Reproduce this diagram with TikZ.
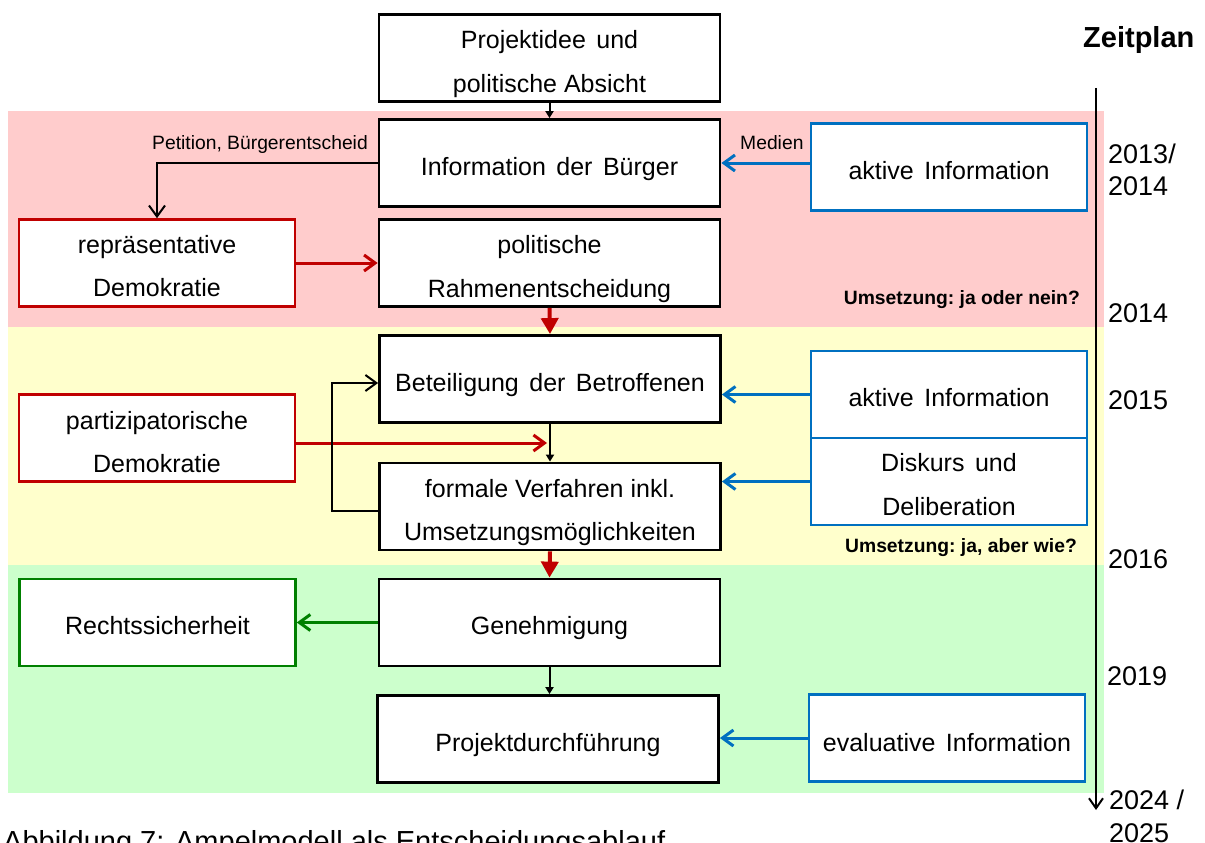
\documentclass[tikz,border=0pt]{standalone}
\usepackage{fontspec}
\setmainfont{Liberation Sans}
\usetikzlibrary{arrows.meta}
\definecolor{cred}{HTML}{C00000}
\definecolor{cblue}{HTML}{0070C0}
\definecolor{cgreen}{HTML}{008000}
\definecolor{bgred}{HTML}{FFCCCC}
\definecolor{bgyellow}{HTML}{FFFFCC}
\definecolor{bggreen}{HTML}{CCFFCC}
\newcommand\boxfont{\fontsize{25}{43.5}\selectfont}
\newcommand\tpm{\rule{0pt}{30pt}}
\newcommand\tps{\rule{0pt}{24.5pt}}
\newcommand\tpx{\rule{0pt}{26.5pt}}
\newcommand\wgap{\hspace{10.5pt}}
\begin{document}
\begin{tikzpicture}[x=1pt,y=-1pt,
  mainbox/.style={draw=black, line width=2.8pt, fill=white, minimum width=341pt, minimum height=87pt, align=center, font=\boxfont, inner sep=0pt},
  sidebox/.style={draw=#1, line width=2.6pt, fill=white, minimum width=276pt, minimum height=87pt, align=center, font=\boxfont, inner sep=0pt},
  smalllabel/.style={font=\fontsize{19.3}{22}\selectfont, inner sep=0pt},
  notelabel/.style={font=\bfseries\fontsize{19.3}{22}\selectfont, inner sep=0pt, anchor=base east},
  yearlabel/.style={font=\fontsize{27}{30}\selectfont, inner sep=0pt, anchor=base west},
  openarr/.style={-{Straight Barb[length=11pt,width=16pt]}, line width=#1},
  smallarr/.style={-{Triangle[length=7pt,width=8pt]}, line width=2pt, black},
  bigarr/.style={-{Triangle[length=16pt,width=17pt]}, line width=4pt, cred}
]
\useasboundingbox (0,0) rectangle (1205,843);
\clip (0,0) rectangle (1205,843);
% background bands
\fill[bgred] (8,111) rectangle (1104,327);
\fill[bgyellow] (8,327) rectangle (1104,565);
\fill[bggreen] (8,565) rectangle (1104,793);

% timeline
\coordinate (tl1) at (1096,88);
\coordinate (tl2) at (1096,810);
\draw[-{Straight Barb[length=10pt,width=14pt]}, line width=2pt] (tl1) -- (tl2);
\node[font=\bfseries\fontsize{29}{31}\selectfont, anchor=base west, inner sep=0pt] (zeit) at (1083,48) {Zeitplan};
\node[yearlabel] (y1) at (1108,163) {2013/};
\node[yearlabel] (y2) at (1108,195) {2014};
\node[yearlabel] (y3) at (1108,322) {2014};
\node[yearlabel] (y4) at (1108,409) {2015};
\node[yearlabel] (y5) at (1108,568) {2016};
\node[yearlabel] (y6) at (1107,685) {2019};
\node[yearlabel] (y7) at (1109,809) {2024 /};
\node[yearlabel] (y8) at (1109,842) {2025};

% main boxes
\node[mainbox] (top) at (549.5,58) {\tpm Projektidee\wgap und\\politische Absicht};
\node[mainbox] (info) at (549.5,163) {\tpm Information\wgap der\wgap Bürger};
\node[mainbox] (polit) at (549.5,263) {\tpm politische\\Rahmenentscheidung};
\node[mainbox] (beteil) at (550,379) {\tpm Beteiligung\wgap der\wgap Betroffenen};
\node[mainbox] (formal) at (550,506.5) {\tpm formale Verfahren inkl.\\Umsetzungsmöglichkeiten};
\node[mainbox] (geneh) at (549.5,622.5) {\tpm Genehmigung};
\node[mainbox] (projekt) at (548,739) {\tpm Projektdurchführung};

% side boxes
\node[sidebox=cred] (repr) at (157,263) {\tps repräsentative\\Demokratie};
\node[sidebox=cred] (partiz) at (157,438) {\tpx partizipatorische\\Demokratie};
\node[sidebox=cgreen] (recht) at (157.5,622.5) {\tps Rechtssicherheit};
\node[sidebox=cblue] (aktiv1) at (949,167) {\tps aktive\wgap Information};
\node[sidebox=cblue] (aktiv2) at (949,394.5) {\tps aktive\wgap Information};
\node[sidebox=cblue] (diskurs) at (949,481.5) {\tps Diskurs\wgap und\\Deliberation};
\node[sidebox=cblue] (eval) at (947,738) {\tpx evaluative\wgap Information};

% labels
\node[smalllabel, anchor=base east] (petition) at (368,149) {Petition, Bürgerentscheid};
\node[smalllabel, anchor=base west] (medien) at (740,149) {Medien};
\node[notelabel] (note1) at (1080,304) {Umsetzung:\ ja\ oder\ nein?};
\node[notelabel] (note2) at (1077,552) {Umsetzung:\ ja,\ aber\ wie?};

% connectors
\draw[smallarr] (top.south) -- (info.north);
\draw[openarr=2pt, black] (info.west) -| (repr.north);
\draw[openarr=3pt, cred] (repr.east) -- (polit.west);
\draw[bigarr] (polit.south) -- (beteil.north);
\draw[smallarr] (beteil.south) -- (formal.north);
\coordinate (pend) at (547,443);
\draw[openarr=3pt, cred] ([yshift=-5pt]partiz.east) -- (pend);
\draw[openarr=2pt, black] ([yshift=-4.5pt]formal.west) -- ++(-46,0) |- ([yshift=-4pt]beteil.west);
\draw[bigarr] (formal.south) -- (geneh.north);
\draw[openarr=3pt, cgreen] (geneh.west) -- (recht.east);
\draw[smallarr] (geneh.south) -- (geneh.south |- projekt.north);
\draw[openarr=3pt, cblue] (aktiv1.west |- info.east) -- (info.east);
\draw[openarr=3pt, cblue] (aktiv2.west) -- (aktiv2.west -| beteil.east);
\draw[openarr=3pt, cblue] (diskurs.west) -- (diskurs.west -| formal.east);
\draw[openarr=3pt, cblue] (eval.west) -- (eval.west -| projekt.east);

% caption
\node[font=\fontsize{29}{32}\selectfont, anchor=base west, inner sep=0pt] (caption) at (3,851) {Abbildung 7: Ampelmodell als Entscheidungsablauf};
\end{tikzpicture}
\end{document}
